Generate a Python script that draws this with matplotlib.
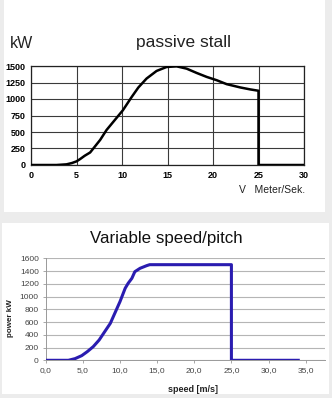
import matplotlib
matplotlib.use("Agg")
import matplotlib.pyplot as plt
from matplotlib.patches import Rectangle

# Passive stall power curve (wind speed m/s, power kW)
stall_speed = [0, 2.8, 3.9, 4.5, 5.0, 5.4, 5.9, 6.5, 7.6, 8.3, 9.2, 10.1, 11.06, 11.8,
               12.7, 13.8, 14.9, 16.0, 17.1, 18.2, 19.3, 20.4, 21.5, 23.0, 24.1, 25.0, 25.0, 30.0]
stall_power = [0, 0, 10, 30, 55, 90, 140, 190, 380, 530, 680, 830, 1030, 1175,
               1310, 1425, 1485, 1495, 1460, 1395, 1335, 1285, 1225, 1175, 1145, 1125, 0, 0]

# Variable speed / pitch power curve
pitch_speed = [0, 3.05, 3.95, 4.85, 5.6, 6.4, 7.2, 7.8, 8.7, 9.3, 10.0, 10.7, 11.1, 11.6,
               12.0, 12.7, 13.6, 14.0, 25.0, 25.0, 34.0]
pitch_power = [0, 0, 26, 73, 136, 214, 319, 424, 580, 737, 920, 1130, 1208, 1286,
               1390, 1443, 1485, 1500, 1500, 0, 0]

stall_xticks = [0, 5, 10, 15, 20, 25, 30]
stall_yticks = [0, 250, 500, 750, 1000, 1250, 1500]
pitch_xticks = [0, 5, 10, 15, 20, 25, 30, 35]
pitch_yticks = [0, 200, 400, 600, 800, 1000, 1200, 1400, 1600]

plt.rcParams["font.family"] = ["Liberation Sans", "DejaVu Sans"]
W, H = 332, 398
fig = plt.figure(figsize=(W / 100, H / 100), dpi=100, facecolor="#ececec")


def fx(px):
    return px / W


def fy(py):
    return 1 - py / H


# white cards
fig.patches.append(Rectangle((fx(4), fy(212)), fx(321), 212 / H, transform=fig.transFigure,
                             facecolor="white", edgecolor="none", zorder=-10))
fig.patches.append(Rectangle((fx(2), fy(394)), fx(327), (394 - 223) / H, transform=fig.transFigure,
                             facecolor="white", edgecolor="none", zorder=-10))

# ---- passive stall ----
ax1 = fig.add_axes([fx(31), fy(165), fx(304 - 31), (165 - 66) / H])
ax1.plot(stall_speed, stall_power, color="black", lw=1.8, solid_joinstyle="round", zorder=3)
ax1.set_xlim(0, 30)
ax1.set_ylim(0, 1500)
ax1.set_xticks(stall_xticks)
ax1.set_yticks(stall_yticks)
ax1.set_xticklabels([str(v) for v in stall_xticks], fontsize=6.5, fontweight="bold")
ax1.set_yticklabels([str(v) for v in stall_yticks], fontsize=6.5, fontweight="bold")
ax1.tick_params(length=0, pad=4)
ax1.grid(True, color="#3a3a3a", lw=0.8)
ax1.set_axisbelow(True)
for s in ax1.spines.values():
    s.set_color("#222222")
    s.set_linewidth(0.9)
ax1.set_facecolor("white")

fig.text(fx(10), fy(43), "kW", fontsize=11.5, va="center", ha="left", color="#222222")
fig.text(fx(183), fy(43), "passive stall", fontsize=12.5, va="center", ha="center", color="#222222")
fig.text(fx(305), fy(190), "V   Meter/Sek.", fontsize=7.5, va="center", ha="right", color="#222222")

# ---- variable speed / pitch ----
ax2 = fig.add_axes([fx(45.7), fy(360.3), fx(325 - 45.7), (360.3 - 258.3) / H])
ax2.plot(pitch_speed, pitch_power, color="#2a1cb0", lw=2.2, solid_joinstyle="round", zorder=3)
ax2.set_xlim(0, 37.6)
ax2.set_ylim(0, 1600)
ax2.set_xticks(pitch_xticks)
ax2.set_yticks(pitch_yticks)
ax2.set_xticklabels([f"{v:.1f}".replace(".", ",") for v in pitch_xticks], fontsize=6, color="#444444")
ax2.set_yticklabels([str(v) for v in pitch_yticks], fontsize=6, color="#444444")
ax2.tick_params(length=2, width=0.6, color="#999999", pad=3)
ax2.grid(True, axis="y", color="#b5b5b5", lw=0.8)
ax2.set_axisbelow(True)
ax2.set_facecolor("white")
for side in ["top", "right"]:
    ax2.spines[side].set_visible(False)
for side in ["left", "bottom"]:
    ax2.spines[side].set_color("#999999")
    ax2.spines[side].set_linewidth(0.7)

fig.text(fx(166), fy(239), "Variable speed/pitch", fontsize=12.2, va="center", ha="center", color="#111111")
fig.text(fx(11), fy(318), "power kW", fontsize=5.8, fontweight="bold", rotation=90,
         va="center", ha="center", color="#222222")
fig.text(fx(193), fy(390), "speed [m/s]", fontsize=6.5, fontweight="bold",
         va="center", ha="center", color="#222222")

fig.savefig("out.png", dpi=100, facecolor=fig.get_facecolor())
